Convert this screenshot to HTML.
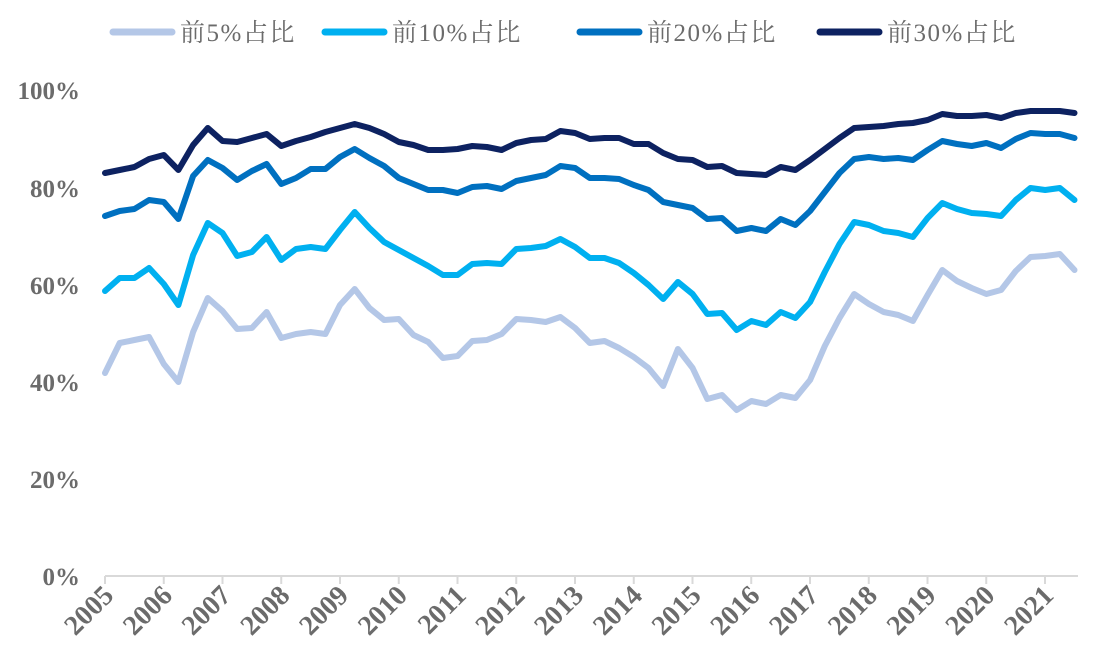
<!DOCTYPE html>
<html><head><meta charset="utf-8"><style>
body{margin:0;background:#fff}
svg text{font-family:"Liberation Serif","Noto Serif CJK SC",serif;fill:#6b6b6b}
</style></head><body>
<svg id="s" width="1095" height="666" xmlns="http://www.w3.org/2000/svg">
<g font-size="25" letter-spacing="1.5">
<line x1="113" y1="32" x2="172" y2="32" stroke="#b4c7e7" stroke-width="7" stroke-linecap="round"/>
<text x="180" y="41">前5%占比</text>
<line x1="325" y1="32" x2="384" y2="32" stroke="#00b0f0" stroke-width="7" stroke-linecap="round"/>
<text x="392" y="41">前10%占比</text>
<line x1="580" y1="32" x2="639" y2="32" stroke="#0070c0" stroke-width="7" stroke-linecap="round"/>
<text x="647" y="41">前20%占比</text>
<line x1="820" y1="32" x2="879" y2="32" stroke="#0d2261" stroke-width="7" stroke-linecap="round"/>
<text x="887" y="41">前30%占比</text>
</g>
<g font-size="25" font-weight="bold" text-anchor="end">
<text x="80" y="99">100%</text>
<text x="80" y="197">80%</text>
<text x="80" y="294">60%</text>
<text x="80" y="391">40%</text>
<text x="80" y="488">20%</text>
<text x="80" y="585">0%</text>
</g>
<line x1="105" y1="576" x2="1078" y2="576" stroke="#d9d9d9" stroke-width="2"/>
<g id="ax"></g>
<g id="ln" fill="none" stroke-width="6" stroke-linejoin="round" stroke-linecap="round"></g>
</svg>
<script>
var ns="http://www.w3.org/2000/svg";
var ax=document.getElementById("ax"),ln=document.getElementById("ln");
for(var i=0;i<17;i++){var x=105+i*58.75;
var l=document.createElementNS(ns,"line");l.setAttribute("x1",x);l.setAttribute("x2",x);l.setAttribute("y1",576);l.setAttribute("y2",584);l.setAttribute("stroke","#d9d9d9");l.setAttribute("stroke-width","2");ax.appendChild(l);
var t=document.createElementNS(ns,"text");t.textContent=2005+i;t.setAttribute("font-size","28");t.setAttribute("font-weight","bold");t.setAttribute("text-anchor","end");t.setAttribute("transform","translate("+(x+10)+",597) rotate(-45)");ax.appendChild(t);}
var d={
"#b4c7e7":[373,343,340,337,364,382,332,298,311,329,328,312,338,334,332,334,305,289,308,320,319,335,342,358,356,341,340,334,319,320,322,317,328,343,341,348,357,368,386,349,368,399,395,410,401,404,395,398,380,346,318,294,304,312,315,321,295,270,281,288,294,290,271,257,256,254,270],
"#00b0f0":[291,278,278,268,284,305,255,223,233,256,252,237,260,249,247,249,230,212,228,242,250,258,266,275,275,264,263,264,249,248,246,239,247,258,258,263,273,285,299,282,294,314,313,330,321,325,312,318,302,272,244,222,225,231,233,237,218,203,209,213,214,216,200,188,190,188,200],
"#0070c0":[216,211,209,200,202,219,176,160,168,180,171,164,184,178,169,169,157,149,158,166,178,184,190,190,193,187,186,189,181,178,175,166,168,178,178,179,185,190,202,205,208,219,218,231,228,231,219,225,211,192,173,159,157,159,158,160,150,141,144,146,143,148,139,133,134,134,138],
"#0d2261":[173,170,167,159,155,170,145,128,141,142,138,134,146,141,137,132,128,124,128,134,142,145,150,150,149,146,147,150,143,140,139,131,133,139,138,138,144,144,153,159,160,167,166,173,174,175,167,170,160,149,138,128,127,126,124,123,120,114,116,116,115,118,113,111,111,111,113]};
for(var c in d){var p=d[c].map(function(y,i){return (105+i*14.69).toFixed(1)+","+y}).join(" ");
var pl=document.createElementNS(ns,"polyline");pl.setAttribute("points",p);pl.setAttribute("stroke",c);ln.appendChild(pl);}
</script>
</body></html>
